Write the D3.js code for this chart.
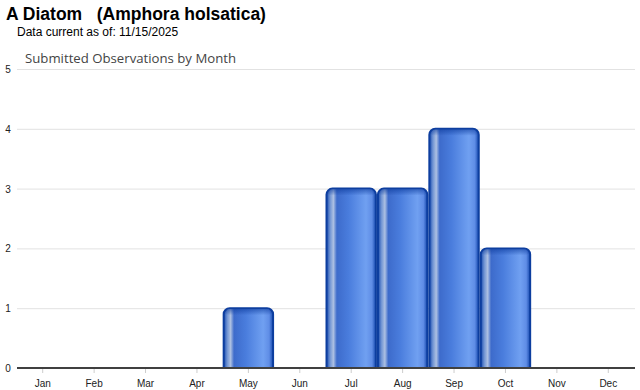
<html lang="en">
<head>
<meta charset="UTF-8">
<title>Submitted Observations by Month</title>
<style>
  body { margin: 0; background: #fff; }
  svg { display: block; }
</style>
<script src="https://d3js.org/d3.v7.min.js"></script>
</head>
<body>
<div id="chart"></div>
<script>
const months = ['Jan', 'Feb', 'Mar', 'Apr', 'May', 'Jun', 'Jul', 'Aug', 'Sep', 'Oct', 'Nov', 'Dec'];
const counts = [0, 0, 0, 0, 1, 0, 3, 3, 4, 2, 0, 0];
const yTicks = [0, 1, 2, 3, 4, 5];

const width = 640, height = 390;
const margin = { top: 69, right: 6, bottom: 22, left: 17 };

const svg = d3.select('#chart').append('svg')
  .attr('width', width)
  .attr('height', height);

const defs = svg.append('defs');

// bar gradient (glossy cylinder look)
const grad = defs.append('linearGradient')
  .attr('id', 'barGrad')
  .attr('x1', '0%').attr('x2', '100%').attr('y1', '0%').attr('y2', '0%');
[
  [0, '#1649ad'], [0.07, '#6f93d3'], [0.14, '#adc0e2'], [0.21, '#3d6bcb'],
  [0.45, '#4a7ddd'], [0.8, '#70a0f1'], [0.92, '#5f8de6'], [1, '#1649ad']
].forEach(([o, c]) => grad.append('stop').attr('offset', o).attr('stop-color', c));

// soft top shading
const topGrad = defs.append('linearGradient')
  .attr('id', 'topGrad')
  .attr('x1', '0').attr('x2', '0').attr('y1', '0').attr('y2', '1')
  .attr('gradientUnits', 'objectBoundingBox');
[[0, '#0b3a9c', 0.55], [1, '#0b3a9c', 0]]
  .forEach(([o, c, a]) => topGrad.append('stop').attr('offset', o).attr('stop-color', c).attr('stop-opacity', a));

const x = d3.scaleBand()
  .domain(months)
  .range([margin.left, width - margin.right])
  .padding(0);

const y = d3.scaleLinear()
  .domain([0, 5])
  .range([height - margin.bottom, margin.top]);

// titles
svg.append('text')
  .attr('x', 6).attr('y', 20)
  .attr('font-family', 'Liberation Sans, Arial, sans-serif')
  .attr('font-size', 17.5).attr('font-weight', 'bold')
  .attr('fill', '#000')
  .attr('xml:space', 'preserve')
  .text('A Diatom   (Amphora holsatica)');

svg.append('text')
  .attr('x', 17).attr('y', 36)
  .attr('font-family', 'Liberation Sans, Arial, sans-serif')
  .attr('font-size', 12)
  .attr('fill', '#000')
  .text('Data current as of: 11/15/2025');

svg.append('text')
  .attr('x', 25).attr('y', 63)
  .attr('font-family', 'Open Sans, DejaVu Sans, sans-serif')
  .attr('font-size', 13.2)
  .attr('fill', '#444')
  .text('Submitted Observations by Month');

// gridlines
svg.append('g')
  .selectAll('line')
  .data(yTicks.filter(d => d > 0))
  .join('line')
  .attr('x1', margin.left).attr('x2', width - margin.right + 1)
  .attr('y1', d => y(d) + 0.5).attr('y2', d => y(d) + 0.5)
  .attr('stroke', '#e2e2e2');

// y labels
svg.append('g')
  .selectAll('text')
  .data(yTicks)
  .join('text')
  .attr('x', 8).attr('y', d => y(d) + 4)
  .attr('text-anchor', 'middle')
  .attr('font-family', 'Liberation Sans, Arial, sans-serif')
  .attr('font-size', 10)
  .attr('fill', '#222')
  .text(d => d);

// bars
const bw = x.bandwidth();
const barData = months.map((m, i) => ({ m, v: counts[i] })).filter(d => d.v > 0);
const bars = svg.append('g');
bars.selectAll('rect.bar')
  .data(barData)
  .join('rect')
  .attr('class', 'bar')
  .attr('x', d => x(d.m) + 1)
  .attr('y', d => y(d.v))
  .attr('width', bw - 2)
  .attr('height', d => y(0) - y(d.v) + 6)
  .attr('rx', 6).attr('ry', 6)
  .attr('fill', 'url(#barGrad)')
  .attr('stroke', '#0d3e9f')
  .attr('stroke-width', 2);
bars.selectAll('rect.top')
  .data(barData)
  .join('rect')
  .attr('class', 'top')
  .attr('x', d => x(d.m) + 2)
  .attr('y', d => y(d.v) + 1)
  .attr('width', bw - 4)
  .attr('height', 6)
  .attr('rx', 5).attr('ry', 5)
  .attr('fill', 'url(#topGrad)');

// x axis baseline
svg.append('rect')
  .attr('x', margin.left).attr('y', y(0) - 1)
  .attr('width', width - margin.right - margin.left + 1)
  .attr('height', height - y(0) + 1)
  .attr('fill', '#fff');
svg.append('line')
  .attr('x1', margin.left).attr('x2', width - margin.right + 1)
  .attr('y1', y(0)).attr('y2', y(0))
  .attr('stroke', '#000').attr('stroke-width', 1.5);

const xAxis = svg.append('g')
  .attr('transform', `translate(0,${y(0) + 1})`)
  .call(d3.axisBottom(x).tickSize(4).tickSizeOuter(0));
xAxis.select('.domain').remove();
xAxis.selectAll('.tick line').attr('stroke', '#ccc');
xAxis.selectAll('.tick text')
  .attr('dy', '1.05em')
  .attr('font-family', 'Liberation Sans, Arial, sans-serif')
  .attr('font-size', 10)
  .attr('fill', '#222');
</script>
</body>
</html>
